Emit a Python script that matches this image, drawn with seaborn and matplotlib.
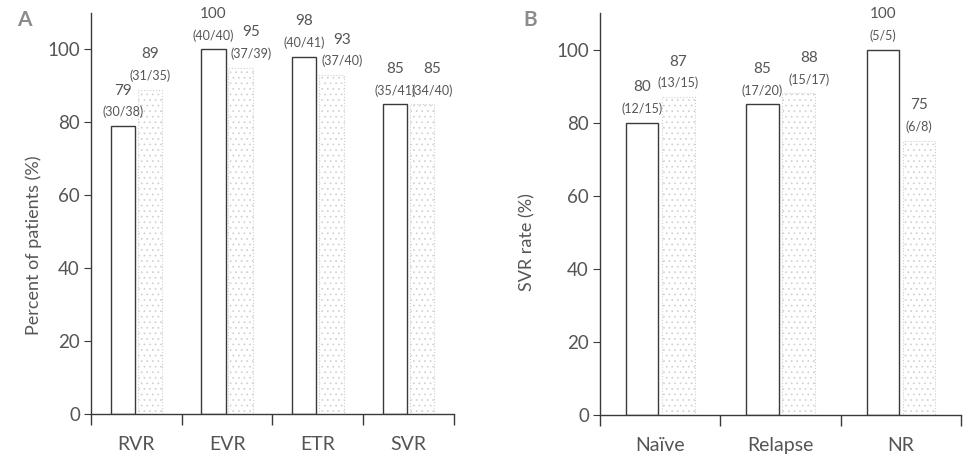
import matplotlib
matplotlib.use("Agg")
import matplotlib.pyplot as plt
import numpy as np
import pandas as pd
import seaborn as sns

# Panel A: on-treatment and post-treatment response rates
resp_categories = ["RVR", "EVR", "ETR", "SVR"]
resp_arm1_pct = [79, 100, 98, 85]
resp_arm1_frac = ["(30/38)", "(40/40)", "(40/41)", "(35/41)"]
resp_arm2_pct = [89, 95, 93, 85]
resp_arm2_frac = ["(31/35)", "(37/39)", "(37/40)", "(34/40)"]

# Panel B: SVR by prior treatment history
hist_categories = ["Naïve", "Relapse", "NR"]
hist_arm1_pct = [80, 85, 100]
hist_arm1_frac = ["(12/15)", "(17/20)", "(5/5)"]
hist_arm2_pct = [87, 88, 75]
hist_arm2_frac = ["(13/15)", "(15/17)", "(6/8)"]

arms = ["arm1", "arm2"]
y_ticks = [0, 20, 40, 60, 80, 100]

sns.set_style("ticks")
plt.rcParams["font.family"] = ["Lato", "DejaVu Sans"]
plt.rcParams["hatch.linewidth"] = 0.5

TEXT = "#555555"
AXIS = "#3a3a3a"


def draw_panel(ax, cats, v1, f1, v2, f2, ylabel, ylab_xy):
    df = pd.DataFrame({
        "cat": cats + cats,
        "pct": v1 + v2,
        "arm": [arms[0]] * len(cats) + [arms[1]] * len(cats),
    })
    sns.barplot(data=df, x="cat", y="pct", hue="arm", order=cats,
                hue_order=arms, palette=["white", "white"], width=0.6,
                gap=0.1, errorbar=None, legend=False, ax=ax)
    open_bars, dotted_bars = ax.containers[0], ax.containers[1]
    for b in open_bars:
        b.set_facecolor("white")
        b.set_edgecolor(AXIS)
        b.set_linewidth(1.0)
    for b in dotted_bars:
        b.set_facecolor("white")
        b.set_edgecolor("#cfcfcf")
        b.set_hatch("...")
        b.set_linewidth(0.8)
        b.set_linestyle(":")

    for i, (b1, b2) in enumerate(zip(open_bars, dotted_bars)):
        h1, h2 = b1.get_height(), b2.get_height()
        # push the dotted bar's label aside when it would sit level with its neighbour's
        shift2 = 7.5 if abs(h1 - h2) <= 6 else 0
        for b, fr, dx in ((b1, f1[i], 0), (b2, f2[i], shift2)):
            xc = b.get_x() + b.get_width() / 2
            top = b.get_height()
            ax.annotate(fr, (xc, top), xytext=(dx, 10), textcoords="offset points",
                        ha="center", va="center", fontsize=9, color=TEXT)
            ax.annotate(f"{top:.0f}", (xc, top), xytext=(dx, 25.5),
                        textcoords="offset points", ha="center", va="center",
                        fontsize=11, color=TEXT)

    n = len(cats)
    ax.set_xlim(-0.5, n - 0.5)
    ax.set_ylim(0, 110)
    ax.set_yticks(y_ticks)
    ax.set_xticks(np.arange(-0.5, n, 1.0), minor=True)
    ax.tick_params(axis="x", which="major", length=0, pad=16,
                   labelsize=14, labelcolor=TEXT)
    ax.tick_params(axis="x", which="minor", length=8, width=1.0,
                   color=AXIS, direction="out")
    ax.tick_params(axis="y", length=5, width=0.8, color=AXIS, pad=3,
                   labelsize=13.5, labelcolor=TEXT)
    ax.set_xlabel("")
    ax.set_ylabel(ylabel, fontsize=13, color=TEXT)
    ax.yaxis.set_label_coords(*ylab_xy)
    sns.despine(ax=ax)
    for side in ("left", "bottom"):
        ax.spines[side].set_color(AXIS)
        ax.spines[side].set_linewidth(1.0)


fig = plt.figure(figsize=(9.65, 4.58), dpi=100)
ax_a = fig.add_axes([0.0943, 0.0961, 0.376, 0.8755])
ax_b = fig.add_axes([0.6218, 0.0939, 0.3741, 0.8777])

draw_panel(ax_a, resp_categories, resp_arm1_pct, resp_arm1_frac,
           resp_arm2_pct, resp_arm2_frac, "Percent of patients (%)", (-0.135, 0.42))
draw_panel(ax_b, hist_categories, hist_arm1_pct, hist_arm1_frac,
           hist_arm2_pct, hist_arm2_frac, "SVR rate (%)", (-0.18, 0.43))

fig.text(0.0254, 0.957, "A", fontsize=15, fontweight="bold", color="#8c8c8c",
         ha="center", va="center")
fig.text(0.549, 0.956, "B", fontsize=15, fontweight="bold", color="#8c8c8c",
         ha="center", va="center")

fig.savefig("out.png", dpi=100)
